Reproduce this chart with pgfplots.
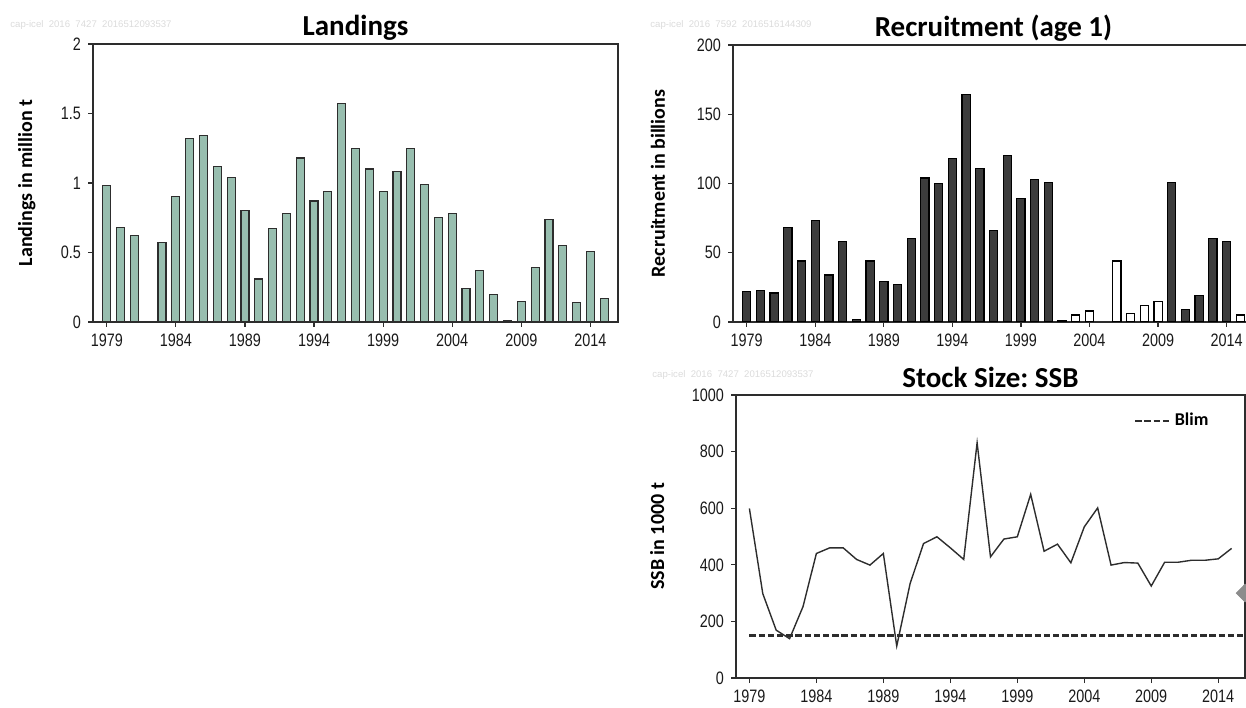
\documentclass[border=0pt]{standalone}
\usepackage{pgfplots}
\pgfplotsset{compat=1.18}
\usepackage{fontspec}
\setmainfont{Carlito}
\newfontfamily\narrow[FakeStretch=0.8]{Liberation Sans}
\newfontfamily\wmfont{Liberation Sans}
\definecolor{landfill}{RGB}{152,190,175}
\definecolor{edge}{RGB}{45,45,45}
\definecolor{darkbar}{RGB}{60,60,60}
\frenchspacing
\pgfplotsset{
  myaxis/.style={
    scale only axis,
    anchor=south west,
    axis line style={edge, line width=0.75pt},
    tick align=outside,
    xtick pos=bottom, ytick pos=left,
    major tick length=2.5pt,
    every tick/.style={edge, line width=0.6pt},
    xmin=1978, xmax=2016,
    xtick={1979,1984,...,2014},
    /pgf/number format/assume math mode=true,
    x tick label style={/pgf/number format/1000 sep={}},
    tick label style={font=\narrow\fontsize{9}{10}\selectfont, text=black!90},
    title style={at={(0.5,1)}, anchor=base, yshift=-2pt, font=\bfseries\fontsize{14.5}{16}\selectfont},
    ylabel style={anchor=center, font=\bfseries\fontsize{10}{11}\selectfont},
  }
}
\pgfplotstableread{
year val
1979 0.98
1980 0.68
1981 0.62
1983 0.57
1984 0.90
1985 1.32
1986 1.34
1987 1.12
1988 1.04
1989 0.80
1990 0.31
1991 0.67
1992 0.78
1993 1.18
1994 0.87
1995 0.94
1996 1.57
1997 1.25
1998 1.10
1999 0.94
2000 1.08
2001 1.25
2002 0.99
2003 0.75
2004 0.78
2005 0.24
2006 0.37
2007 0.20
2008 0.01
2009 0.15
2010 0.39
2011 0.74
2012 0.55
2013 0.14
2014 0.51
2015 0.17
}\landings
\pgfplotstableread{
year val
1979 22
1980 23
1981 21
1982 68
1983 44
1984 73
1985 34
1986 58
1987 2
1988 44
1989 29
1990 27
1991 60
1992 104
1993 100
1994 118
1995 164
1996 111
1997 66
1998 120
1999 89
2000 103
2001 101
2002 1
2010 101
2011 9
2012 19
2013 60
2014 58
}\recdark
\pgfplotstableread{
year val
2003 5
2004 8
2006 44
2007 6
2008 12
2009 15
2015 5
}\recwhite
\pgfplotstableread{
year val
1979 599
1980 298
1981 169
1982 139
1983 252
1984 440
1985 460
1986 460
1987 419
1988 399
1989 440
1990 113
1991 334
1992 475
1993 499
1994 460
1995 419
1996 831
1997 428
1998 491
1999 499
2000 649
2001 448
2002 473
2003 407
2004 534
2005 601
2006 399
2007 408
2008 406
2009 325
2010 409
2011 409
2012 416
2013 416
2014 421
2015 458
}\ssb
\pgfplotstableread{
year val
1979 150
2016 150
}\blim
\begin{document}
\begin{tikzpicture}
\useasboundingbox (0,0) rectangle (623pt,353.5pt);
\clip (0,0) rectangle (623pt,353.5pt);
% watermarks
\node[anchor=west, inner sep=0pt, text=black!14, font=\wmfont\fontsize{4.8}{6}\selectfont] at (5pt,341pt) {cap-icel\ \ 2016\ \ 7427\ \ 2016512093537};
\node[anchor=west, inner sep=0pt, text=black!14, font=\wmfont\fontsize{4.8}{6}\selectfont] at (325pt,341pt) {cap-icel\ \ 2016\ \ 7592\ \ 2016516144309};
\node[anchor=west, inner sep=0pt, text=black!14, font=\wmfont\fontsize{4.8}{6}\selectfont] at (326pt,166pt) {cap-icel\ \ 2016\ \ 7427\ \ 2016512093537};
% Landings
\begin{axis}[myaxis,
  at={(46.5pt,192.5pt)}, width=262.5pt, height=139pt,
  ymin=0, ymax=2, ytick={0,0.5,1,1.5,2},
  yticklabels={0,0.5,1,1.5,2},
  title={Landings},
  ylabel={Landings in million t},
  ylabel style={at={(axis description cs:-0.126,0.5)}},
]
\addplot[ybar, bar width=4pt, bar shift=0pt, fill=landfill, draw=edge, line width=0.6pt] table[x=year,y=val] {\landings};
\end{axis}
% Recruitment
\begin{axis}[myaxis,
  at={(366.5pt,192.5pt)}, width=260.5pt, height=138.5pt,
  ymin=0, ymax=200, ytick={0,50,...,200},
  title={Recruitment (age 1)},
  ylabel={Recruitment in billions},
  ylabel style={at={(axis description cs:-0.144,0.5)}},
]
\addplot[ybar, bar width=4.1pt, bar shift=0pt, fill=darkbar, draw=black, line width=0.6pt] table[x=year,y=val] {\recdark};
\addplot[ybar, bar width=4.1pt, bar shift=0pt, fill=white, draw=black, line width=0.6pt] table[x=year,y=val] {\recwhite};
\end{axis}
% SSB
\begin{axis}[myaxis,
  at={(368pt,14.5pt)}, width=254.5pt, height=141.5pt,
  ymin=0, ymax=1000, ytick={0,200,...,1000},
  y tick label style={/pgf/number format/1000 sep={}},
  title={Stock Size: SSB},
  ylabel={SSB in 1000 t},
  ylabel style={at={(axis description cs:-0.155,0.5)}},
  clip=false,
  legend style={draw=none, fill=none, at={(0.777,0.908)}, anchor=west,
    font=\bfseries\fontsize{9}{10}\selectfont, inner sep=1pt},
  legend cell align=left,
]
\addplot[forget plot, edge, line width=0.7pt, mark=none] table[x=year,y=val] {\ssb};
\addplot[forget plot, only marks, mark=diamond*, mark size=4.4pt, mark options={fill=black!45, draw=black!45, xscale=1.33}] coordinates {(2016,300)};
\addplot[edge, line width=1.4pt, dash pattern=on 3.2pt off 1.4pt, mark=none] table[x=year,y=val] {\blim};
\addlegendentry{Blim}
\end{axis}
\end{tikzpicture}
\end{document}
